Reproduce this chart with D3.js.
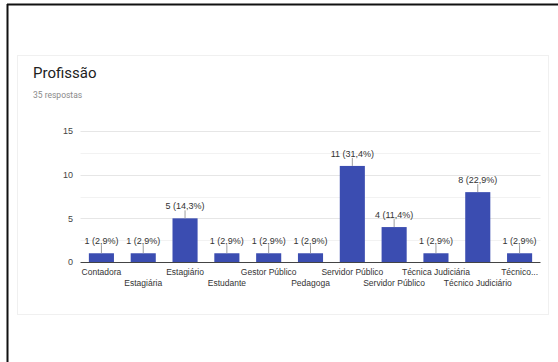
<!DOCTYPE html>
<html>
<head>
<meta charset="utf-8">
<script src="https://cdn.jsdelivr.net/npm/d3@7"></script>
<style>
  html, body { margin: 0; padding: 0; background: #fff; }
  svg { display: block; }
</style>
</head>
<body>
<svg id="chart" width="558" height="362"></svg>
<script>
// data
var categories = ["Contadora", "Estagiária", "Estagiário", "Estudante", "Gestor Público",
    "Pedagoga", "Servidor Público", "Servidor Público", "Técnica Judiciária",
    "Técnico Judiciário", "Técnico..."];
var counts = [1, 1, 5, 1, 1, 1, 11, 4, 1, 8, 1];
var percents = ["2,9%", "2,9%", "14,3%", "2,9%", "2,9%", "2,9%", "31,4%", "11,4%", "2,9%", "22,9%", "2,9%"];
var yTicks = [0, 5, 10, 15];
var yGrid = [2.5, 5, 7.5, 10, 12.5, 15];

var svg = d3.select("#chart");

// frame lines of the screenshot
svg.append("line").attr("x1", 7.5).attr("x2", 7.5).attr("y1", 4).attr("y2", 362)
    .attr("stroke", "#111").attr("stroke-width", 2);
svg.append("line").attr("x1", 7).attr("x2", 558).attr("y1", 4.5).attr("y2", 4.5)
    .attr("stroke", "#111").attr("stroke-width", 2);

// card
svg.append("rect").attr("x", 17.5).attr("y", 55.5).attr("width", 531).attr("height", 259)
    .attr("fill", "#fff").attr("stroke", "#f0f0f0");

svg.append("text").attr("x", 33).attr("y", 78)
    .style("font-family", "Roboto, sans-serif").style("font-size", "15px").attr("fill", "#212121")
    .text("Profissão");
svg.append("text").attr("x", 33).attr("y", 98)
    .style("font-family", "Roboto, sans-serif").style("font-size", "8.5px").attr("fill", "#8a8a8a")
    .text("35 respostas");

var x = d3.scaleBand()
    .domain(d3.range(categories.length))
    .range([80.5, 540.5])
    .paddingInner(0.4)
    .paddingOuter(0.2);

var y = d3.scaleLinear().domain([0, 15]).range([262, 131]);

var g = svg.append("g").style("font-family", "'Liberation Sans', Arial, sans-serif");

// gridlines
g.selectAll(".grid")
    .data(yGrid)
    .enter().append("line")
    .attr("x1", 80.5).attr("x2", 540.5)
    .attr("y1", function (d) { return Math.round(y(d)) + 0.5; })
    .attr("y2", function (d) { return Math.round(y(d)) + 0.5; })
    .attr("stroke", function (d) { return d % 5 === 0 ? "#e6e6e6" : "#f2f2f2"; });

// y axis
var yAxis = g.append("g")
    .attr("transform", "translate(73,0)")
    .call(d3.axisLeft(y).tickValues(yTicks).tickSize(0).tickPadding(0));
yAxis.select(".domain").remove();
yAxis.selectAll("text").style("font-size", "9px").attr("fill", "#444");

// bars
g.selectAll(".bar")
    .data(counts)
    .enter().append("rect")
    .attr("x", function (d, i) { return x(i); })
    .attr("width", x.bandwidth())
    .attr("y", function (d) { return y(d); })
    .attr("height", function (d) { return y(0) - y(d); })
    .attr("fill", "#3b4db1");

// leader lines + value labels
g.selectAll(".lead")
    .data(counts)
    .enter().append("line")
    .attr("x1", function (d, i) { return x(i) + x.bandwidth() / 2; })
    .attr("x2", function (d, i) { return x(i) + x.bandwidth() / 2; })
    .attr("y1", function (d) { return y(d) - 8; })
    .attr("y2", function (d) { return y(d); })
    .attr("stroke", "#9e9e9e");

g.selectAll(".val")
    .data(counts)
    .enter().append("text")
    .attr("x", function (d, i) { return x(i) + x.bandwidth() / 2; })
    .attr("y", function (d) { return y(d) - 9; })
    .attr("text-anchor", "middle")
    .style("font-size", "9px")
    .attr("fill", "#333")
    .text(function (d, i) { return d + " (" + percents[i] + ")"; });

// x axis
var xAxis = g.append("g")
    .attr("transform", "translate(0," + y(0) + ")")
    .call(d3.axisBottom(x).tickSize(0).tickPadding(7)
        .tickFormat(function (i) { return categories[i]; }));
xAxis.select(".domain").attr("stroke", "#444").attr("d", "M80.5,0.5H540.5");
xAxis.selectAll("text")
    .style("font-size", "8.5px")
    .attr("fill", "#333")
    .attr("dy", function (i) { return i % 2 ? "2.05em" : "0.71em"; });
</script>
</body>
</html>
